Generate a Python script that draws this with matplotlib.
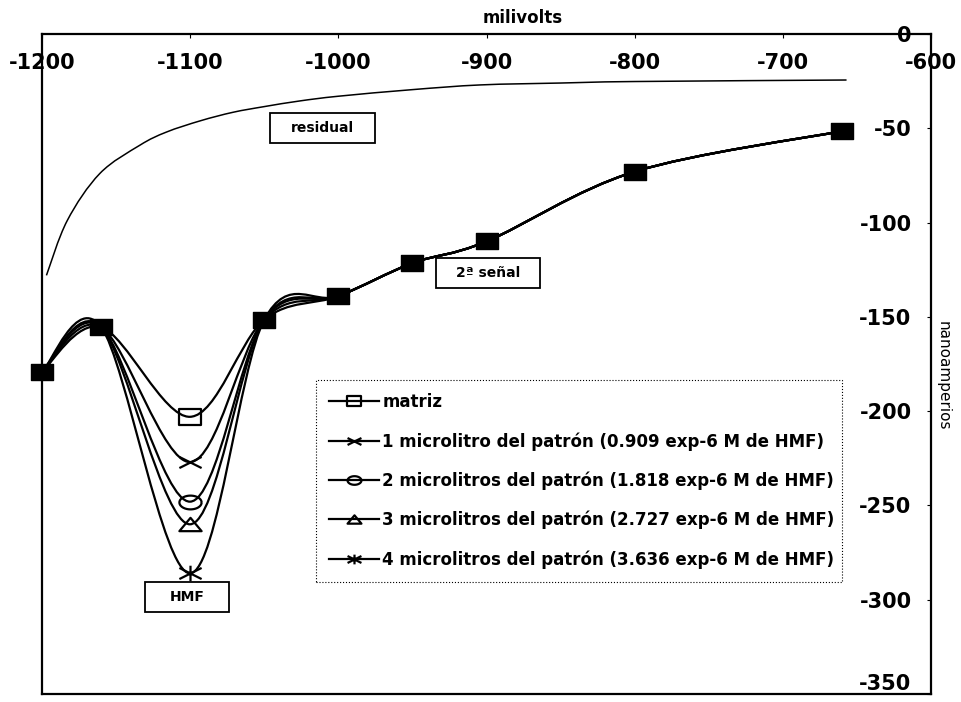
import numpy as np
import matplotlib
matplotlib.use("Agg")
import matplotlib.pyplot as plt
from matplotlib.path import Path
from matplotlib.patches import PathPatch, Rectangle
from matplotlib.lines import Line2D

# potential (mV) and current (nA)
volts = [-1200, -1160, -1100, -1050, -1000, -950, -900, -800, -660]
matriz = [-179, -155.5, -203, -151.5, -139, -121.5, -110, -73, -51.5]
peak_1ul = -227
peak_2ul = -248
peak_3ul = -260
peak_4ul = -286

res_volts = [-1197, -1183, -1161, -1134, -1116, -1093, -1071, -1050, -1026,
             -1000, -950, -904, -850, -800, -657]
res_current = [-128, -99, -74, -59, -52, -46, -41.5, -38.5, -35.5,
               -33, -29.5, -27, -26, -25.2, -24.4]

labels = ["matriz",
          "1 microlitro del patrón (0.909 exp-6 M de HMF)",
          "2 microlitros del patrón (1.818 exp-6 M de HMF)",
          "3 microlitros del patrón (2.727 exp-6 M de HMF)",
          "4 microlitros del patrón (3.636 exp-6 M de HMF)"]

plt.rcParams['font.family'] = 'DejaVu Sans'
plt.rcParams['axes.unicode_minus'] = False

# marker shapes (drawn a bit wider than tall, like the original)
rect = Path([(-1, -0.68), (1, -0.68), (1, 0.68), (-1, 0.68), (-1, -0.68)],
            [Path.MOVETO, Path.LINETO, Path.LINETO, Path.LINETO, Path.CLOSEPOLY])
cross = Path([(-1, -0.5), (1, 0.5), (-1, 0.5), (1, -0.5)],
             [Path.MOVETO, Path.LINETO, Path.MOVETO, Path.LINETO])
t = np.linspace(0, 2 * np.pi, 40)
ellipse = Path(np.column_stack([np.cos(t), 0.62 * np.sin(t)]))
tri = Path([(-1, -0.6), (1, -0.6), (0, 0.6), (-1, -0.6)],
           [Path.MOVETO, Path.LINETO, Path.LINETO, Path.CLOSEPOLY])
star = Path([(-1, -0.5), (1, 0.5), (-1, 0.5), (1, -0.5), (0, -0.7), (0, 0.7)],
            [Path.MOVETO, Path.LINETO, Path.MOVETO, Path.LINETO, Path.MOVETO, Path.LINETO])
markers = [rect, cross, ellipse, tri, star]


def smooth_path(xs, ys):
    # excel-like smoothed line (catmull-rom as cubic bezier)
    pts = np.column_stack([xs, ys]).astype(float)
    n = len(pts)
    verts = [pts[0]]
    codes = [Path.MOVETO]
    for i in range(n - 1):
        p0 = pts[i - 1] if i > 0 else pts[i]
        p1 = pts[i]
        p2 = pts[i + 1]
        p3 = pts[i + 2] if i + 2 < n else pts[i + 1]
        verts += [p1 + (p2 - p0) / 6, p2 - (p3 - p1) / 6, p2]
        codes += [Path.CURVE4] * 3
    return Path(verts, codes)


fig = plt.figure(figsize=(9.61, 7.02), dpi=100)
ax = fig.add_axes([42 / 961, 8 / 702, 889 / 961, 660 / 702])
ax.set_xlim(-1200, -600)
ax.set_ylim(-350, 0)

series = []
for peak in [matriz[2], peak_1ul, peak_2ul, peak_3ul, peak_4ul]:
    ys = list(matriz)
    ys[2] = peak
    series.append(ys)

for ys, m in zip(series, markers):
    ax.add_patch(PathPatch(smooth_path(volts, ys), fill=False, lw=1.6,
                           edgecolor='black', zorder=3))
    ax.plot(volts[2], ys[2], marker=m, ms=16, mew=1.6, mec='black',
            fillstyle='none', ls='none', zorder=4)

# shared points: all markers overlap into a black block
shared_x = [v for i, v in enumerate(volts) if i != 2]
shared_y = [v for i, v in enumerate(matriz) if i != 2]
ax.plot(shared_x, shared_y, marker=rect, ms=16, color='black', ls='none',
        zorder=5, clip_on=False)

ax.add_patch(PathPatch(smooth_path(res_volts, res_current), fill=False, lw=1.1,
                       edgecolor='black', zorder=3))

# axes styling
for s in ax.spines.values():
    s.set_linewidth(1.6)
ax.xaxis.tick_top()
ax.xaxis.set_label_position('top')
ax.set_xticks(range(-1200, -599, 100))
ax.tick_params(axis='x', direction='in', length=3, pad=-28, labelsize=15)
ax.yaxis.tick_right()
ax.set_yticks(range(-350, 1, 50))
ax.tick_params(axis='y', direction='in', length=3, pad=-14, labelsize=15)
for lab in ax.get_xticklabels() + ax.get_yticklabels():
    lab.set_fontweight('bold')
for lab in ax.get_yticklabels():
    lab.set_horizontalalignment('right')
ax.get_yticklabels()[0].set_verticalalignment('bottom')

fig.text(523 / 961, 1 - 18 / 702, "milivolts", ha='center', va='center',
         fontsize=12, fontweight='bold')
fig.text(943 / 961, 1 - 376 / 702, "nanoamperios", ha='center', va='center',
         rotation=270, fontsize=11)

# boxed annotations


def box_label(cx, cy, w, h, txt):
    fx, fy = (cx - 42) / 889, (694 - cy) / 660
    fw, fh = w / 889, h / 660
    ax.add_patch(Rectangle((fx - fw / 2, fy - fh / 2), fw, fh, transform=ax.transAxes,
                           facecolor='white', edgecolor='black', lw=1.3, zorder=6))
    ax.text(fx, fy, txt, transform=ax.transAxes, ha='center', va='center',
            fontsize=10, fontweight='bold', zorder=7)


box_label(322, 128, 105, 30, "residual")
box_label(488, 273, 104, 30, "2ª señal")
box_label(187, 597, 84, 30, "HMF")

handles = [Line2D([], [], color='black', lw=1.6, marker=m, ms=10, mew=1.6,
                  fillstyle='none') for m in markers]
leg = ax.legend(handles, labels, loc='upper left',
                bbox_to_anchor=(0.308, 0.176, 0.592, 0.3), mode='expand',
                prop={'size': 12, 'weight': 'bold'}, handlelength=3.0,
                handletextpad=0.2, labelspacing=1.25, borderpad=0.8,
                borderaxespad=0, fancybox=False, framealpha=1)
leg.get_frame().set_linestyle(':')
leg.get_frame().set_linewidth(0.8)
leg.get_frame().set_edgecolor('black')
leg.set_zorder(6)

fig.savefig("out.png", dpi=100)
